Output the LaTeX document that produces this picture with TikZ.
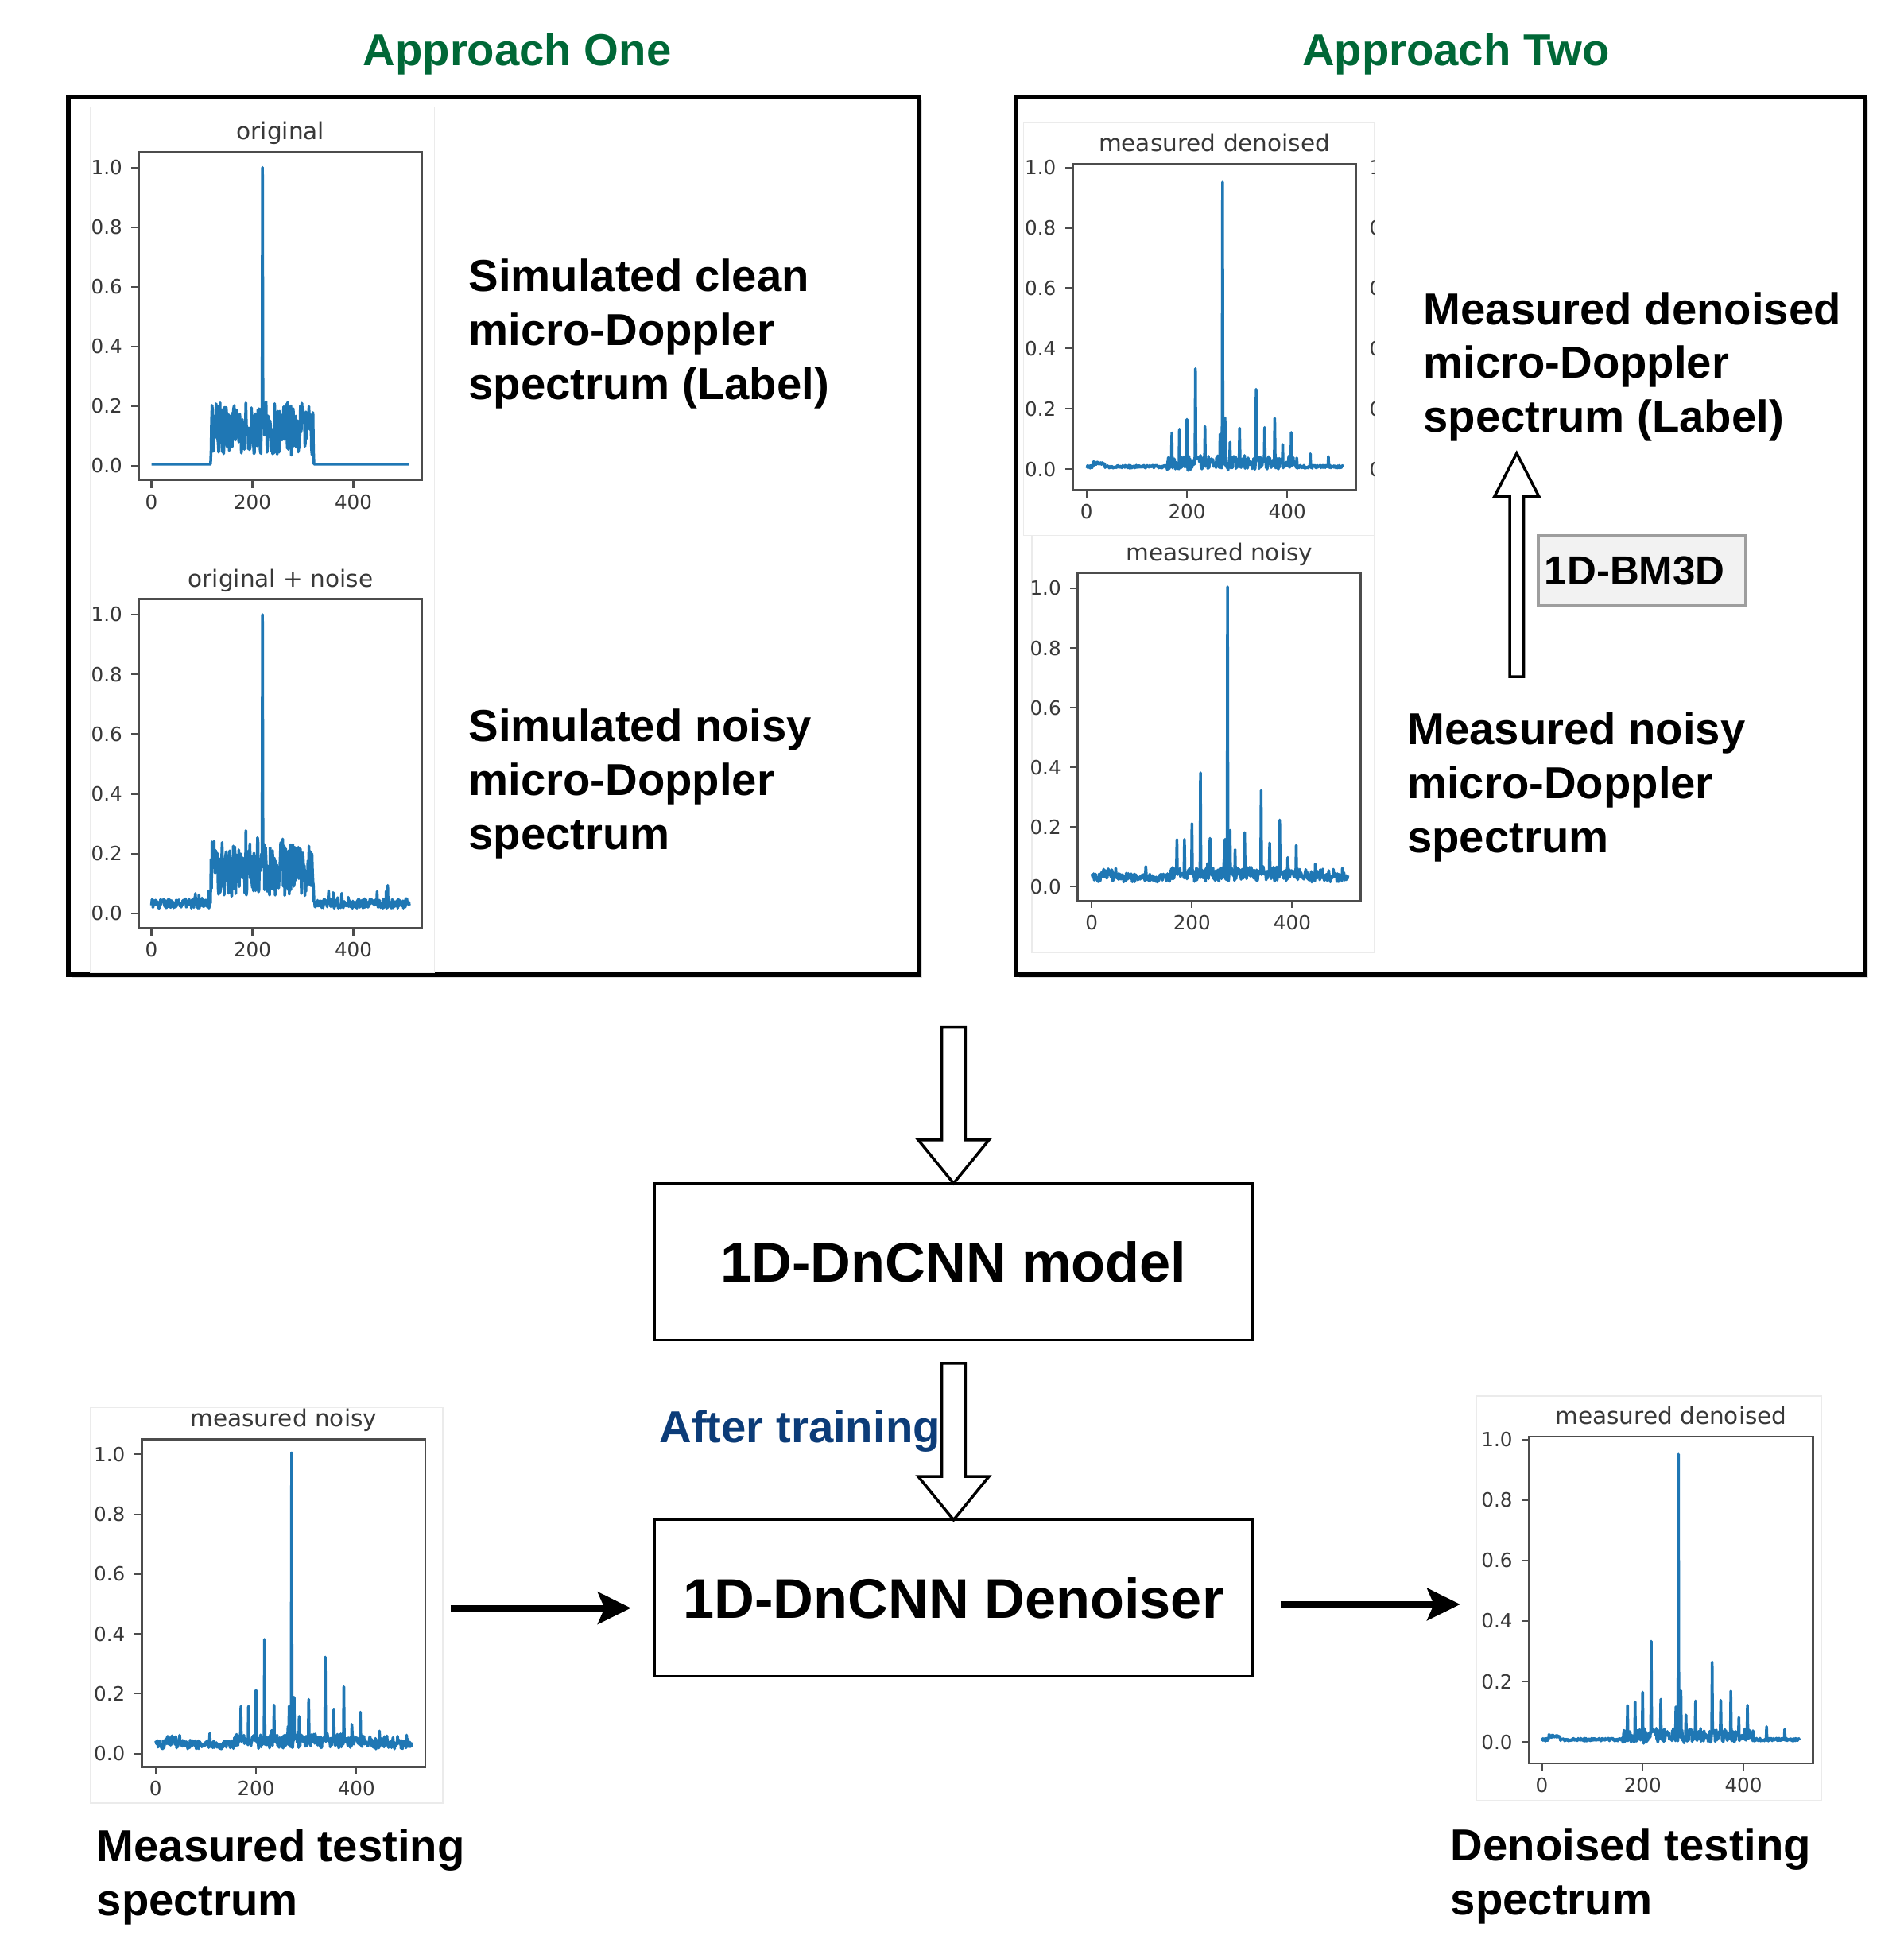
\documentclass[tikz,border=0pt]{standalone}
\usepackage{fontspec}
\setmainfont{Liberation Sans}
\newfontfamily\plotfont{DejaVu Sans}
\usetikzlibrary{arrows.meta,calc,shadows}
\definecolor{agreen}{RGB}{0,104,55}
\definecolor{ablue}{RGB}{12,60,120}
\definecolor{mpl}{HTML}{1F77B4}
\newcommand\px[1]{#1*0.015617cm}
\newcommand\setplot[8]{\def\Xz{#1}\def\Xs{#2}\def\Yz{#3}\def\Ys{#4}\def\AL{#5}\def\AT{#6}\def\AR{#7}\def\AB{#8}}
\newcommand\drawaxes[2]{%
  \draw[frame] (\AL,\AT) rectangle (\AR,\AB);
  \foreach \v/\t/\i in {0/0.0/0,0.2/0.2/2,0.4/0.4/4,0.6/0.6/6,0.8/0.8/8,1/1.0/10}{
    \draw[tickmark] (\AL,{\Yz-\Ys*\v}) -- ++(-6,0);
    \node[ticklbl, anchor=east] (#1-y\i) at ({\AL-13},{\Yz-\Ys*\v}) {\t};
  }
  \foreach \v in {0,200,400}{
    \draw[tickmark] ({\Xz+\Xs*\v},\AB) -- ++(0,6);
    \node[ticklbl, anchor=north] (#1-x\v) at ({\Xz+\Xs*\v},{\AB+11}) {\v};
  }
  \node[plottitle, anchor=base] (#1-title) at ({(\AL+\AR)/2},{\AT-10}) {#2};
}
\newcommand\drawcurve[1]{\draw[curve] plot[domain=0:511, samples=512] ({\Xz+\Xs*\x},{\Yz-\Ys*(#1)});}
\newcommand\nsp{(abs(\x-220)>0.6)}
\newcommand\fclean{(0.005+(\x>117)*(\x<322)*(0.12+0.09*rand)*\nsp+(abs(\x-220)<0.6)*0.995)}
\newcommand\fsimnoisy{(\fclean+(0.028+0.016*rand+(rnd>0.92)*0.05*rnd)*\nsp)}
\newcommand\mpk{((abs(\x-170)<0.6)*0.12+(abs(\x-185)<0.6)*0.12+(abs(\x-200)<0.6)*0.17+(abs(\x-217)<0.6)*0.35+(abs(\x-236)<0.6)*0.12+(abs(\x-266)<0.6)*0.12+(abs(\x-276)<0.6)*0.16+(abs(\x-286)<0.6)*0.08+(abs(\x-305)<0.6)*0.13+(abs(\x-338)<0.6)*0.28+(abs(\x-355)<0.6)*0.11+(abs(\x-375)<0.6)*0.18+(abs(\x-391)<0.6)*0.05+(abs(\x-408)<0.6)*0.11+(abs(\x-446)<0.6)*0.05+(abs(\x-482)<0.6)*0.04)}
\newcommand\fmeasnoisy{(0.03+0.015*rand+(\x>150)*(\x<430)*0.025*rnd+(rnd>0.93)*0.03*rnd+(abs(\x-30)<12)*0.02*rnd+\mpk+(abs(\x-271)<0.6)*0.94)}
\newcommand\fmeasden{(0.008+0.005*rand+(\x>160)*(\x<420)*(0.012+0.022*rand)+(abs(\x-25)<12)*0.012+0.9*\mpk+(abs(\x-271)<0.6)*0.955)}
\newcommand\hollowv[5]{%
  \draw[hollow] ($(#1)+(-#3,0)$) -- ($(#2)+(-#3,#5)$) -- ($(#2)+(-#4,#5)$) -- (#2) -- ($(#2)+(#4,#5)$) -- ($(#2)+(#3,#5)$) -- ($(#1)+(#3,0)$) -- cycle;}
\begin{document}
\begin{tikzpicture}[x=0.015617cm, y=-0.015617cm,
  frame/.style={draw=black!70, line width=0.7pt},
  tickmark/.style={draw=black!70, line width=0.6pt},
  ticklbl/.style={inner sep=0pt, text=black!78, font=\plotfont\fontsize{7}{8}\selectfont},
  plottitle/.style={inner sep=0pt, text=black!78, font=\plotfont\fontsize{8.4}{10}\selectfont},
  curve/.style={draw=mpl, line width=1pt, line join=round},
  imgbox/.style={draw=black!8, line width=0.4pt, inner sep=0pt, outer sep=0pt},
  apbox/.style={draw=black, line width=1.6pt, inner sep=0pt, outer sep=0pt, fill=white,
     drop shadow={shadow xshift=1.2pt, shadow yshift=-1.2pt, opacity=0.25}},
  aptitle/.style={inner sep=0pt, text=agreen, font=\fontsize{16}{19}\selectfont\bfseries},
  lbl/.style={inner sep=0pt, align=left, anchor=base west, font=\fontsize{16}{19.3}\selectfont\bfseries},
  procbox/.style={draw=black, line width=0.9pt, inner sep=0pt, outer sep=0pt, font=\fontsize{20}{24}\selectfont\bfseries},
  bmbox/.style={draw=black!38, line width=1pt, fill=black!5, inner xsep=\px{5}, inner ysep=0pt, outer sep=0pt, align=left, font=\fontsize{14.5}{17}\selectfont\bfseries},
  hollow/.style={draw=black, line width=1pt, fill=white, line join=miter},
  flow/.style={draw=black, line width=2.3pt, -{Stealth[length=11.8pt, width=11.4pt, inset=2.4pt]}}
]
\useasboundingbox (0,0) rectangle (1533,1568);

% titles
\node[aptitle, anchor=base] (t1) at (416.5,53) {Approach One};
\node[aptitle, anchor=base] (t2) at (1172.5,53) {Approach Two};

% approach boxes
\node[apbox, minimum width=\px{685}, minimum height=\px{707}] (ap1) at (397.5,431.5) {};
\node[apbox, minimum width=\px{684}, minimum height=\px{707}] (ap2) at (1160,431.5) {};

% faint image regions
\node[imgbox, minimum width=\px{277.5}, minimum height=\px{697.5}] (img12) at (211.25,434.75) {};
\node[imgbox, minimum width=\px{282.7}, minimum height=\px{332.5}] (img3) at (965.75,265.05) {};
\node[imgbox, minimum width=\px{276}, minimum height=\px{336.2}] (img4) at (969,599.4) {};
\node[imgbox, minimum width=\px{283.9}, minimum height=\px{318.8}] (img5) at (214.55,1292.8) {};
\node[imgbox, minimum width=\px{277.5}, minimum height=\px{325.8}] (img6) at (1328.05,1287.1) {};

% plot 1
\setplot{122}{0.4065}{375}{240.1}{111.9}{122.6}{340}{386.8}
\drawaxes{p1}{original}
\pgfmathsetseed{11}
\drawcurve{\fclean}
% plot 2
\setplot{122}{0.4065}{735.5}{240.6}{111.9}{482.5}{340}{747.4}
\drawaxes{p2}{original + noise}
\pgfmathsetseed{11}
\drawcurve{\fsimnoisy}
% plot 3
\setplot{875.1}{0.404}{377.8}{242.9}{863.9}{132.2}{1092.3}{394.7}
\drawaxes{p3}{measured denoised}
\pgfmathsetseed{23}
\drawcurve{\fmeasden}
\begin{scope}
\clip (1100,110) rectangle (1106.5,400);
\foreach \v/\t/\i in {0/0.0/0,0.2/0.2/2,0.4/0.4/4,0.6/0.6/6,0.8/0.8/8,1/1.0/10}{
  \node[ticklbl, anchor=west] (cut\i) at (1102.5,{377.8-242.9*\v}) {\t};
}
\end{scope}
% plot 4
\setplot{879.2}{0.4038}{714}{240.2}{868}{461.5}{1095.9}{725.4}
\drawaxes{p4}{measured noisy}
\pgfmathsetseed{37}
\drawcurve{\fmeasnoisy}
% plot 5
\setplot{125.3}{0.4043}{1412.2}{241}{114.2}{1159.2}{342.6}{1423}
\drawaxes{p5}{measured noisy}
\pgfmathsetseed{37}
\drawcurve{\fmeasnoisy}
% plot 6
\setplot{1241.8}{0.4057}{1402.9}{243.6}{1231.6}{1157}{1460}{1420}
\drawaxes{p6}{measured denoised}
\pgfmathsetseed{23}
\drawcurve{\fmeasden}

% labels (anchored at the baseline of their last line)
\node[lbl] (simclean) at (377,321.8) {Simulated clean\\micro-Doppler\\spectrum (Label)};
\node[lbl] (simnoisy) at (377,684.2) {Simulated noisy\\micro-Doppler\\spectrum};
\node[lbl] (measden) at (1146,348.2) {Measured denoised\\micro-Doppler\\spectrum (Label)};
\node[lbl] (measnoisy) at (1133,686.7) {Measured noisy\\micro-Doppler\\spectrum};
\node[lbl] (testin) at (77.5,1542.4) {Measured testing\\spectrum};
\node[lbl] (testout) at (1168,1541.8) {Denoised testing\\spectrum};

% BM3D
\node[bmbox, text width=\px{157}, minimum height=\px{56}] (bm3d) at (1322.5,459.5) {1D-BM3D};
\coordinate (a3s) at (1221.5,545);
\coordinate (a3t) at (1221.5,365);
\hollowv{a3s}{a3t}{5.6}{18}{35}

% process boxes
\node[procbox, minimum width=\px{482}, minimum height=\px{126}] (model) at (768,1016) {1D-DnCNN model};
\node[procbox, minimum width=\px{482}, minimum height=\px{126}] (den) at (768,1287) {1D-DnCNN Denoiser};
\coordinate (a1s) at (768,827);
\hollowv{a1s}{model.north}{9.5}{28.5}{-35}
\coordinate (a2s) at (768,1098);
\hollowv{a2s}{den.north}{9.5}{28.5}{-35}
\node[inner sep=0pt, anchor=base west, text=ablue, font=\fontsize{16}{19}\selectfont\bfseries] (after) at (530.7,1161.5) {After training};

% flow arrows
\coordinate (la) at (363,1295);
\draw[flow, shorten >=8.4pt] (la) -- (la -| den.west);
\coordinate (ra) at (1031.4,1292);
\draw[flow, shorten >=5.9pt] (ra) -- (ra -| img6.west);
\end{tikzpicture}
\end{document}
